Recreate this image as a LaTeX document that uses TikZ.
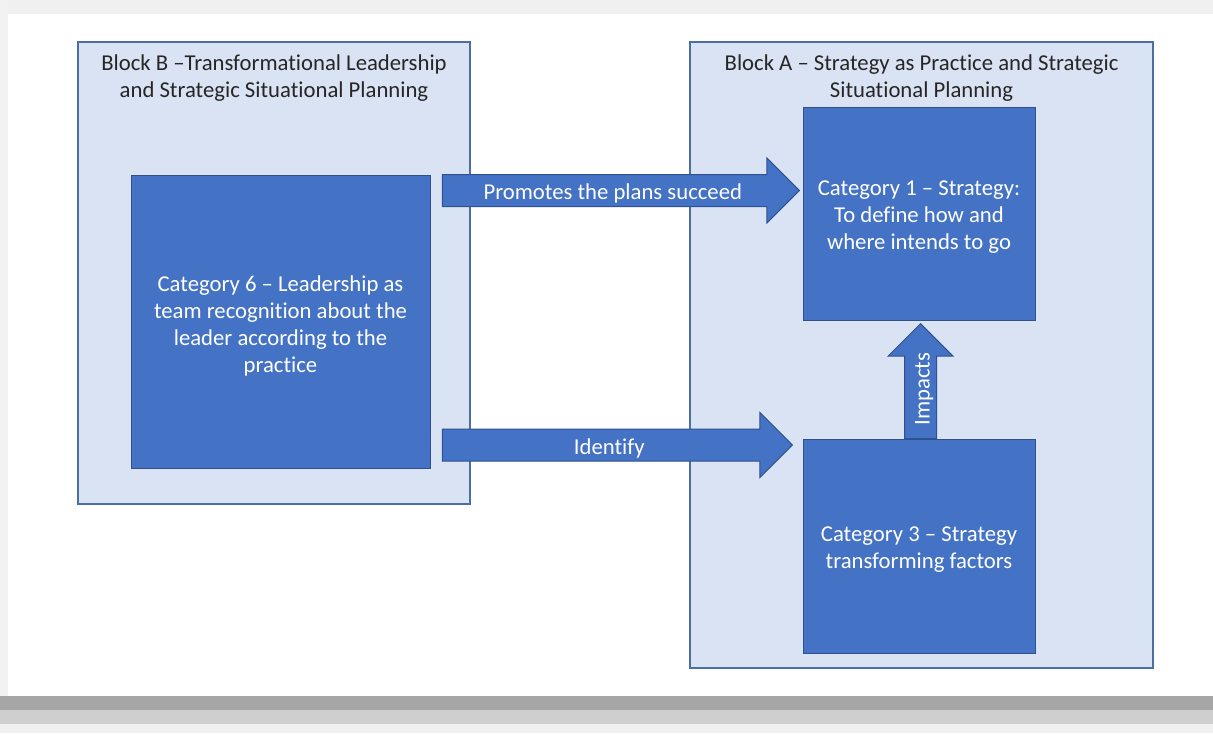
\documentclass[tikz,border=0pt]{standalone}
\usepackage{fontspec}
\setmainfont[Ligatures={TeX,NoCommon}]{Carlito}
\usetikzlibrary{shapes.arrows}
\definecolor{paleblue}{HTML}{DAE3F3}
\definecolor{midblue}{HTML}{4472C4}
\definecolor{edgeblue}{HTML}{2F528F}
\definecolor{frameblue}{HTML}{4A6FA5}
\newcommand{\txtsize}{\fontsize{11.35}{13.5}\selectfont}

\begin{document}
\begin{tikzpicture}[x=0.5pt, y=-0.5pt,
  block/.style={draw=frameblue, fill=paleblue, line width=0.6pt},
  title/.style={align=center, text=black!85, font=\txtsize, inner sep=0pt},
  cat/.style={draw=edgeblue, fill=midblue, line width=0.5pt},
  cattext/.style={align=center, text=white, font=\txtsize, inner sep=0pt, yshift=-2pt},
  fat/.style={single arrow, draw=edgeblue, fill=midblue, line width=0.5pt, text=white, font=\txtsize,
    text height=10pt, text depth=1pt, inner xsep=0pt, inner ysep=2.25pt,
    single arrow head extend=8.25pt, minimum width=32pt, anchor=tip}]
\useasboundingbox (0,0) rectangle (1213,733);
\fill[white] (0,0) rectangle (1213,733);
\fill[gray!12] (0,0) rectangle (1213,14);
\fill[gray!10] (0,0) rectangle (8,696);
\fill[gray!70] (0,696) rectangle (1213,710);
\fill[gray!38] (0,710) rectangle (1213,724);
\fill[gray!12] (0,724) rectangle (1213,733);

\node[block, minimum width=196pt, minimum height=231pt] (blockB) at (274,273) {};
\node[block, minimum width=231.5pt, minimum height=313pt] (blockA) at (921.5,355) {};
\node[title] (titleB) at (274,78) {Block B --Transformational Leadership\\and Strategic Situational Planning};
\node[title] (titleA) at (921.5,78) {Block A -- Strategy as Practice and Strategic\\Situational Planning};

\node[cat, minimum width=149.5pt, minimum height=146.5pt] (cat6) at (280.5,321.5) {};
\node[cat, minimum width=116pt, minimum height=106.5pt] (cat1) at (919,213.5) {};
\node[cat, minimum width=116pt, minimum height=107pt] (cat3) at (919,546) {};
\node[cattext] (cat6text) at (cat6.center) {Category 6 -- Leadership as\\team recognition about the\\leader according to the\\practice};
\node[cattext] (cat1text) at (cat1.center) {Category 1 -- Strategy:\\To define how and\\where intends to go};
\node[cattext] (cat3text) at (cat3.center) {Category 3 -- Strategy\\transforming factors};

\node[fat, minimum height=178.5pt] (promote) at (800,190.5) {Promotes the plans succeed};
\node[fat, minimum height=175pt] (identify) at (793,445) {Identify};
\node[fat, minimum height=57.5pt, rotate=90] (impacts) at (920.5,323) {Impacts};
\end{tikzpicture}
\end{document}
